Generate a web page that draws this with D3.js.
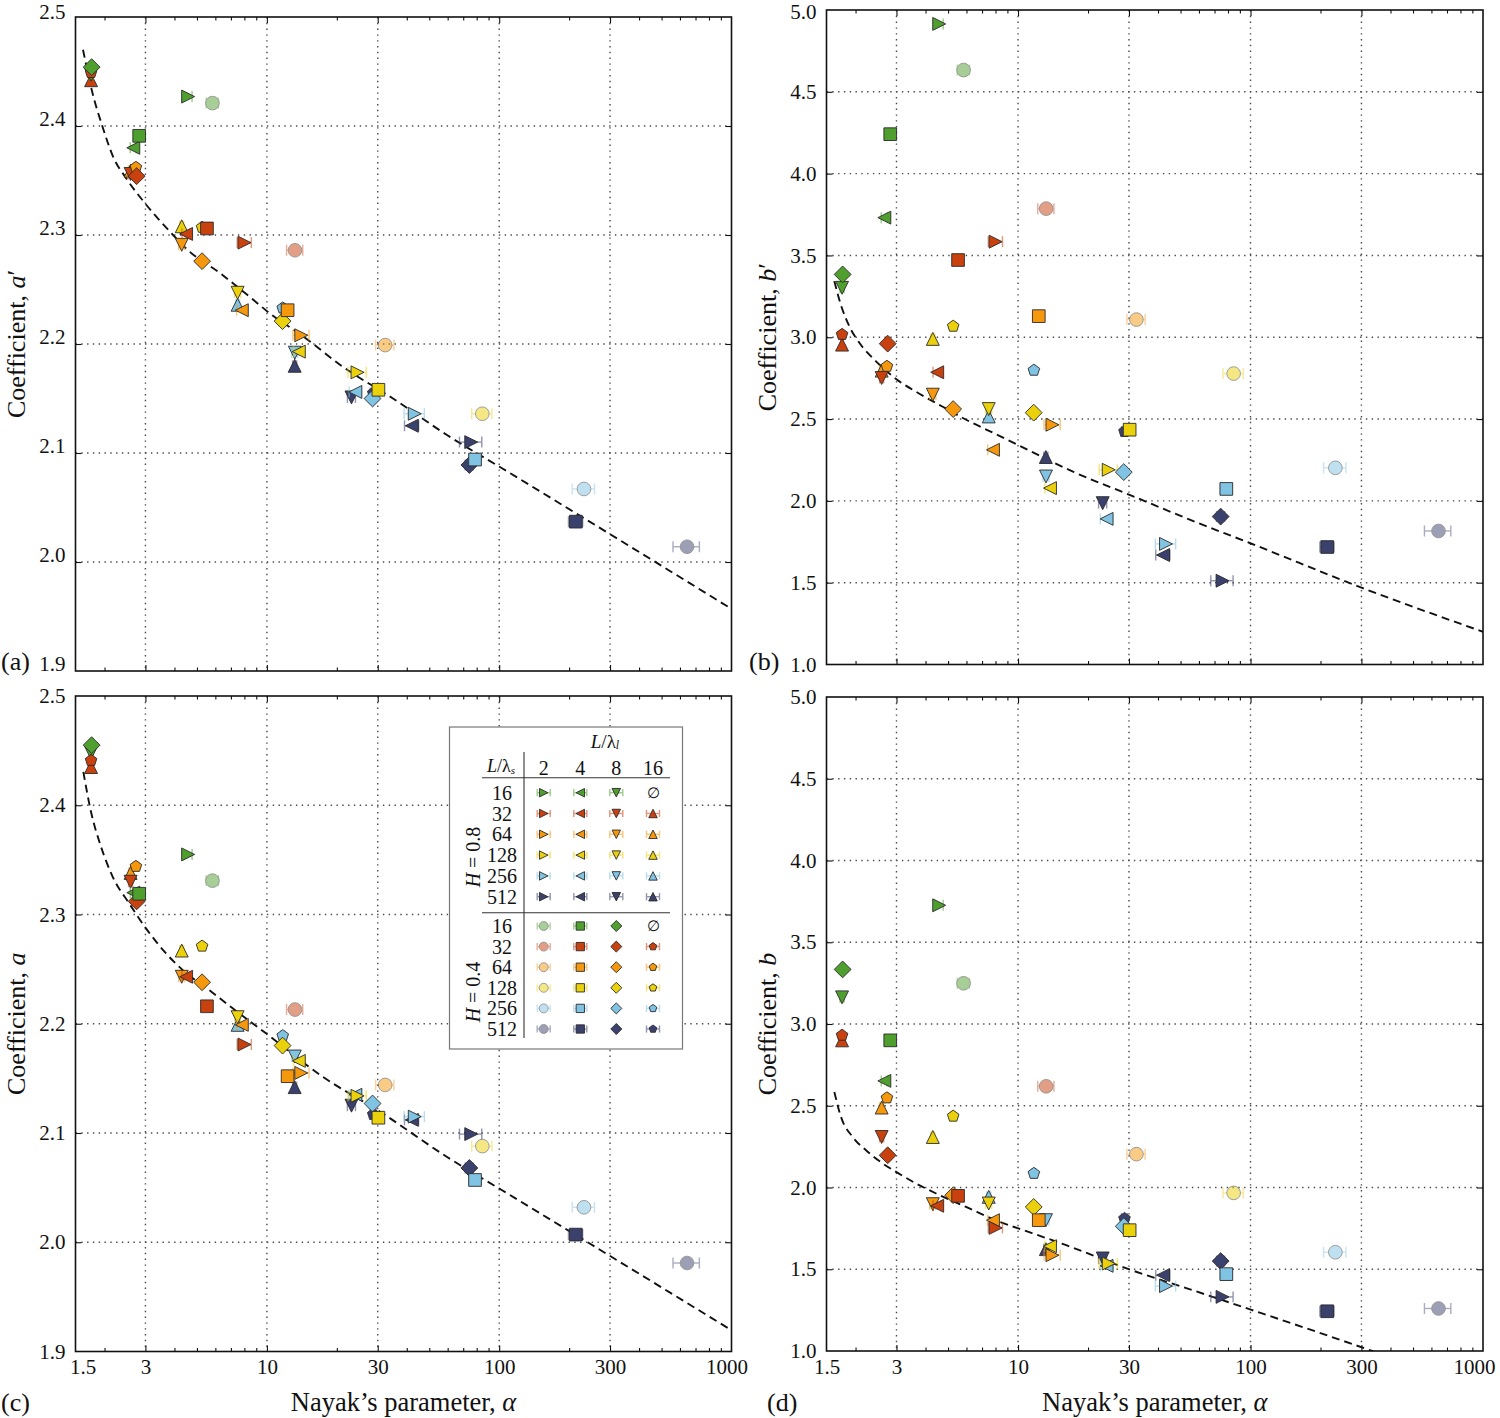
<!DOCTYPE html>
<html><head><meta charset="utf-8">
<script src="https://cdn.jsdelivr.net/npm/d3@7"></script>
<style>body{margin:0;background:#fff}</style>
</head><body><svg id="chart" width="1500" height="1418"></svg>
<script>
// ---------------- DATA ----------------
const lambdaS = [16, 32, 64, 128, 256, 512];          // rows  (L/lambda_s)
const lambdaL = [2, 4, 8, 16];                        // cols  (L/lambda_l)
const xTickValues = [1.5, 3, 10, 30, 100, 300, 1000];
const xMajorTicks = [3, 10, 30, 100, 300];
const xMinorTicks = [2, 4, 5, 6, 7, 8, 9, 20, 40, 50, 60, 70, 80, 90, 200, 400, 500, 600, 700, 800, 900];
const yTicksA = [1.9, 2.0, 2.1, 2.2, 2.3, 2.4, 2.5];
const yTicksB = [1.0, 1.5, 2.0, 2.5, 3.0, 3.5, 4.0, 4.5, 5.0];

// Nayak's parameter alpha per (L/lambda_s row, L/lambda_l col)
const alphaH08 = [
  [4.58, 2.66, 1.75, null],
  [8.01, 4.49, 2.59, 1.75],
  [14.06, 7.80, 4.30, 2.59],
  [24.55, 13.72, 7.48, 4.30],
  [43.3, 24.04, 13.19, 7.48],
  [75.8, 42.06, 23.13, 13.17]
];
const alphaH04 = [
  [5.83, 2.82, 1.76, null],
  [13.21, 5.52, 2.75, 1.75],
  [32.3, 12.28, 5.26, 2.73],
  [84.6, 30.2, 11.68, 5.26],
  [231.7, 78.7, 28.5, 11.7],
  [643.6, 213.7, 74.4, 28.7]
];
// relative half-width of the alpha error bars
const errH08 = [
  [0.04, 0.03, 0.02, null],
  [0.07, 0.04, 0.02, 0.01],
  [0.08, 0.05, 0.03, 0.02],
  [0.09, 0.05, 0.03, 0.02],
  [0.10, 0.06, 0.03, 0.02],
  [0.11, 0.07, 0.04, 0.02]
];
const errH04 = [
  [0.06, 0.03, 0.01, null],
  [0.08, 0.04, 0.02, 0.01],
  [0.09, 0.05, 0.02, 0.02],
  [0.10, 0.05, 0.03, 0.02],
  [0.11, 0.06, 0.03, 0.02],
  [0.13, 0.07, 0.04, 0.03]
];
// coefficient a'
const aPrimeH08 = [
  [2.427, 2.380, 2.447, null],
  [2.293, 2.301, 2.356, 2.442],
  [2.208, 2.231, 2.291, 2.359],
  [2.174, 2.193, 2.247, 2.308],
  [2.136, 2.156, 2.192, 2.236],
  [2.110, 2.125, 2.151, 2.180]
];
const aPrimeH04 = [
  [2.421, 2.391, 2.454, null],
  [2.286, 2.306, 2.354, 2.449],
  [2.199, 2.231, 2.276, 2.362],
  [2.136, 2.158, 2.221, 2.307],
  [2.067, 2.094, 2.150, 2.233],
  [2.014, 2.037, 2.089, 2.155]
];
// coefficient b'
const bPrimeH08 = [
  [4.915, 3.731, 3.302, null],
  [3.584, 2.786, 2.751, 2.955],
  [2.465, 2.312, 2.649, 2.796],
  [2.190, 2.078, 2.561, 2.990],
  [1.737, 1.890, 2.149, 2.516],
  [1.512, 1.669, 1.986, 2.268]
];
const bPrimeH04 = [
  [4.633, 4.241, 3.384, null],
  [3.786, 3.472, 2.961, 3.017],
  [3.108, 3.129, 2.561, 2.822],
  [2.778, 2.435, 2.539, 3.067],
  [2.202, 2.073, 2.176, 2.798],
  [1.816, 1.718, 1.904, 2.424]
];
// coefficient a
const aH08 = [
  [2.355, 2.320, 2.448, null],
  [2.181, 2.243, 2.330, 2.435],
  [2.155, 2.199, 2.243, 2.338],
  [2.134, 2.166, 2.206, 2.267],
  [2.115, 2.135, 2.170, 2.199],
  [2.099, 2.112, 2.125, 2.142]
];
const aH04 = [
  [2.331, 2.319, 2.455, null],
  [2.213, 2.216, 2.312, 2.441],
  [2.144, 2.152, 2.238, 2.344],
  [2.088, 2.114, 2.180, 2.271],
  [2.032, 2.057, 2.127, 2.189],
  [1.981, 2.007, 2.068, 2.117]
];
// coefficient b
const bH08 = [
  [3.726, 2.652, 3.163, null],
  [1.753, 1.888, 2.309, 2.900],
  [1.586, 1.800, 1.898, 2.489],
  [1.535, 1.641, 1.902, 2.309],
  [1.397, 1.521, 1.800, 1.943],
  [1.331, 1.464, 1.566, 1.623]
];
const bH04 = [
  [3.249, 2.900, 3.334, null],
  [2.619, 1.949, 2.197, 2.931],
  [2.204, 1.800, 1.953, 2.548],
  [1.967, 1.739, 1.881, 2.436],
  [1.604, 1.470, 1.763, 2.086],
  [1.260, 1.243, 1.550, 1.810]
];
// fitted curves [alpha, value]
const fitAPrime = [[1.616,2.470],[1.762,2.433],[1.970,2.398],[2.176,2.372],[2.499,2.351],[3.017,2.328],[3.827,2.303],[4.575,2.286],[6.28,2.265],[8.46,2.243],[10.31,2.228],[14.12,2.208],[21.27,2.179],[34.9,2.150],[59.6,2.1165],[102.8,2.086],[1000,1.957]];
const fitBPrime = [[1.621,3.343],[1.732,3.195],[1.880,3.067],[2.077,2.966],[2.450,2.853],[2.988,2.745],[3.764,2.655],[4.746,2.575],[6.39,2.475],[7.58,2.425],[10.04,2.340],[17.32,2.177],[30.17,2.037],[55.1,1.884],[99.8,1.741],[300,1.47],[1000,1.20]];
const fitA = [[1.621,2.4306],[1.749,2.394],[1.932,2.362],[2.169,2.3345],[2.557,2.310],[3.017,2.2873],[3.68,2.2644],[4.342,2.2491],[5.65,2.2308],[7.125,2.2141],[9.91,2.1912],[17.39,2.1515],[30.68,2.1195],[59.4,2.0783],[102.5,2.0478],[1000,1.9195]];
const fitB = [[1.621,2.584],[1.732,2.4315],[1.945,2.309],[2.219,2.228],[2.618,2.1467],[2.988,2.0954],[3.643,2.0244],[4.442,1.9633],[5.978,1.8814],[8.32,1.7897],[10.04,1.7494],[16.11,1.6473],[31.4,1.490],[42.3,1.429],[53.3,1.383],[90.4,1.2744],[334,1.0],[420,0.95]];

const seriesColors = ['#4f9f2f', '#c8410e', '#f5980e', '#ebd00c', '#80c3e2', '#3b416d'];
const shapesH08 = ['right', 'left', 'down', 'up'];
const shapesH04 = ['circle', 'square', 'diamond', 'pentagon'];

// ---------------- DRAWING ----------------
const FONT = '"Liberation Serif","Times New Roman",Times,serif';
const svg = d3.select('#chart');
svg.append('rect').attr('width', 1500).attr('height', 1418).attr('fill', '#fff');

function markerPath(shape, k) {
  const h = 5.3 * k;
  switch (shape) {
    case 'right': return `M${-h},${-h}L${h},0L${-h},${h}Z`;
    case 'left': return `M${h},${-h}L${-h},0L${h},${h}Z`;
    case 'down': return `M${-h},${-h}L${h},${-h}L0,${h}Z`;
    case 'up': return `M0,${-h}L${h},${h}L${-h},${h}Z`;
    case 'square': { const q = 5.2 * k; return `M${-q},${-q}H${q}V${q}H${-q}Z`; }
    case 'diamond': { const d = 6.9 * k; return `M0,${-d}L${d},0L0,${d}L${-d},0Z`; }
    case 'circle': { const r = 5.6 * k; return `M${r},0A${r},${r} 0 1,1 ${-r},0A${r},${r} 0 1,1 ${r},0Z`; }
    case 'pentagon': {
      const r = 5.0 * k; let p = '';
      for (let i = 0; i < 5; i++) { const a = -Math.PI / 2 + i * 2 * Math.PI / 5; p += (i ? 'L' : 'M') + (r * Math.cos(a)).toFixed(2) + ',' + (r * Math.sin(a)).toFixed(2); }
      return p + 'Z';
    }
  }
}

function drawMarker(g, shape, color, cx, cy, xl, xr, k) {
  const m = g.append('g');
  if (shape === 'circle') m.attr('opacity', 0.5);
  if (xr - xl > 1) {
    const eb = m.append('g').attr('stroke', color).attr('stroke-width', 1.4).attr('opacity', shape === 'circle' ? 0.85 : 0.55);
    eb.append('line').attr('x1', xl).attr('x2', xr).attr('y1', cy).attr('y2', cy);
    eb.append('line').attr('x1', xl).attr('x2', xl).attr('y1', cy - 4.5 * k).attr('y2', cy + 4.5 * k);
    eb.append('line').attr('x1', xr).attr('x2', xr).attr('y1', cy - 4.5 * k).attr('y2', cy + 4.5 * k);
  }
  m.append('path').attr('d', markerPath(shape, k)).attr('transform', `translate(${cx},${cy})`)
    .attr('fill', color).attr('stroke', '#2a2a2a').attr('stroke-width', 0.9);
}

const panels = [
  { id: 'a', h08: aPrimeH08, h04: aPrimeH04, fit: fitAPrime, x0: 75.5, x1: 731.5, yTop: 17, yBot: 671, yDom: [1.9, 2.5], yTicks: yTicksA, sym: 'a', prime: true, letter: '(a)', lx: 0, ly: 670, xLabels: false, labelShift: -7 },
  { id: 'b', h08: bPrimeH08, h04: bPrimeH04, fit: fitBPrime, x0: 826.5, x1: 1483, yTop: 10, yBot: 664.5, yDom: [1, 5], yTicks: yTicksB, sym: 'b', prime: true, letter: '(b)', lx: 748, ly: 670, xLabels: false, labelShift: 0 },
  { id: 'c', h08: aH08, h04: aH04, fit: fitA, x0: 75.5, x1: 731.5, yTop: 696, yBot: 1351.5, yDom: [1.9, 2.5], yTicks: yTicksA, sym: 'a', prime: false, letter: '(c)', lx: 0, ly: 1411, xLabels: true, labelShift: 0, firstDx: 7, lastDx: -5 },
  { id: 'd', h08: bH08, h04: bH04, fit: fitB, x0: 826.5, x1: 1483, yTop: 697, yBot: 1351, yDom: [1, 5], yTicks: yTicksB, sym: 'b', prime: false, letter: '(d)', lx: 766, ly: 1411, xLabels: true, labelShift: 0, firstDx: 0, lastDx: -9 }
];

function styleAxis(sel) {
  sel.select('.domain').remove();
  sel.selectAll('line').attr('stroke', '#111').attr('stroke-width', 1.1);
  sel.selectAll('text').attr('font-family', FONT).attr('font-size', 21).attr('fill', '#111');
}

const MK = 1.22;

panels.forEach(p => {
  const x = d3.scaleLog().domain([1.5, 1000]).range([p.x0, p.x1]);
  const y = d3.scaleLinear().domain(p.yDom).range([p.yBot, p.yTop]);
  const g = svg.append('g');

  const clipId = 'clip-' + p.id;
  svg.append('clipPath').attr('id', clipId).append('rect')
    .attr('x', p.x0).attr('y', p.yTop).attr('width', p.x1 - p.x0).attr('height', p.yBot - p.yTop);

  // grid
  const grid = g.append('g').attr('stroke', '#4a4a4a').attr('stroke-width', 1.4).attr('stroke-dasharray', '1.4,4.4');
  xMajorTicks.forEach(v => grid.append('line').attr('x1', x(v)).attr('x2', x(v)).attr('y1', p.yTop).attr('y2', p.yBot));
  p.yTicks.slice(1, -1).forEach(v => grid.append('line').attr('x1', p.x0).attr('x2', p.x1).attr('y1', y(v)).attr('y2', y(v)));

  // legend (panel c)
  if (p.id === 'c') drawLegend(g);

  const plot = g.append('g').attr('clip-path', `url(#${clipId})`);
  // fitted dashed curve
  plot.append('path').datum(p.fit)
    .attr('d', d3.line().x(d => x(d[0])).y(d => y(d[1])).curve(d3.curveMonotoneX))
    .attr('fill', 'none').attr('stroke', '#111').attr('stroke-width', 1.9).attr('stroke-dasharray', '8,5');

  // markers: H = 0.8 then H = 0.4
  [[alphaH08, errH08, p.h08, shapesH08], [alphaH04, errH04, p.h04, shapesH04]].forEach(([al, er, vals, shapes]) => {
    for (let i = lambdaS.length - 1; i >= 0; i--) {
      for (let j = 0; j < lambdaL.length; j++) {
        const a = al[i][j], v = vals[i][j];
        if (a == null || v == null) continue;
        const e = er[i][j];
        drawMarker(plot, shapes[j], seriesColors[i], x(a), y(v), x(a * (1 - e)), x(a * (1 + e)), MK);
      }
    }
  });

  // frame
  g.append('rect').attr('x', p.x0).attr('y', p.yTop).attr('width', p.x1 - p.x0).attr('height', p.yBot - p.yTop)
    .attr('fill', 'none').attr('stroke', '#111').attr('stroke-width', 1.6);

  // ticks
  g.append('g').attr('transform', `translate(0,${p.yBot})`).call(d3.axisBottom(x).tickValues(xMajorTicks).tickSize(-6).tickFormat('')).call(styleAxis);
  g.append('g').attr('transform', `translate(0,${p.yBot})`).call(d3.axisBottom(x).tickValues(xMinorTicks).tickSize(-3.5).tickFormat('')).call(styleAxis);
  g.append('g').attr('transform', `translate(0,${p.yTop})`).call(d3.axisTop(x).tickValues(xMajorTicks).tickSize(-6).tickFormat('')).call(styleAxis);
  g.append('g').attr('transform', `translate(0,${p.yTop})`).call(d3.axisTop(x).tickValues(xMinorTicks).tickSize(-3.5).tickFormat('')).call(styleAxis);
  g.append('g').attr('transform', `translate(${p.x1},0)`).call(d3.axisRight(y).tickValues(p.yTicks.slice(1, -1)).tickSize(-6).tickFormat('')).call(styleAxis);

  // y axis with labels
  const yAx = g.append('g').attr('transform', `translate(${p.x0},0)`)
    .call(d3.axisLeft(y).tickValues(p.yTicks).tickSize(-6).tickPadding(10).tickFormat(d3.format('.1f'))).call(styleAxis);
  yAx.selectAll('.tick').filter(d => d === p.yTicks[0] || d === p.yTicks[p.yTicks.length - 1]).select('line').remove();
  yAx.selectAll('text').attr('transform', d => {
    const cy = y(d) + p.labelShift;
    const s = cy < 12 ? 12 - y(d) : p.labelShift;
    return `translate(0,${s})`;
  });

  // x labels
  if (p.xLabels) {
    const xAx = g.append('g').attr('transform', `translate(0,${p.yBot})`)
      .call(d3.axisBottom(x).tickValues(xTickValues).tickSize(0).tickPadding(8).tickFormat(d => String(d))).call(styleAxis);
    xAx.selectAll('text').attr('dx', d => d === 1.5 ? p.firstDx : (d === 1000 ? p.lastDx : 0));
    const xt = g.append('text').attr('x', (p.x0 + p.x1) / 2).attr('y', 1411).attr('text-anchor', 'middle')
      .attr('font-family', FONT).attr('font-size', 26.5).attr('fill', '#111');
    xt.append('tspan').text('Nayak\u2019s parameter, ');
    xt.append('tspan').attr('font-style', 'italic').text('\u03b1');
  }

  // y title
  const yt = g.append('text').attr('transform', `translate(${p.x0 - 60},${(p.yTop + p.yBot) / 2}) rotate(-90)`)
    .attr('text-anchor', 'middle').attr('dominant-baseline', 'central')
    .attr('font-family', FONT).attr('font-size', 26).attr('fill', '#111');
  yt.append('tspan').text('Coefficient, ');
  yt.append('tspan').attr('font-style', 'italic').text(p.sym);
  if (p.prime) yt.append('tspan').text('\u2032');

  // panel letter
  g.append('text').attr('x', p.lx + 1).attr('y', p.ly).attr('font-family', FONT).attr('font-size', 26).attr('fill', '#111').text(p.letter);
});

function drawLegend(g) {
  const bx = 449.5, by = 727, bw = 233, bh = 322;
  const L = g.append('g');
  L.append('rect').attr('x', bx).attr('y', by).attr('width', bw).attr('height', bh)
    .attr('fill', '#fff').attr('stroke', '#777').attr('stroke-width', 1.2);
  const colX = [543.7, 580.3, 616.3, 653];
  const rowY08 = [792.7, 813.5, 834.3, 855.1, 875.9, 896.7];
  const rowY04 = [926, 946.6, 967.2, 987.8, 1008.4, 1029];
  const txt = (x, y, s, size, anchor) => L.append('text').attr('x', x).attr('y', y).attr('text-anchor', anchor || 'middle')
    .attr('dominant-baseline', 'central').attr('font-family', FONT).attr('font-size', size || 18).attr('fill', '#111').text(s);

  const h1 = L.append('text').attr('x', 605).attr('y', 741).attr('text-anchor', 'middle').attr('dominant-baseline', 'central')
    .attr('font-family', FONT).attr('font-size', 19).attr('fill', '#111');
  h1.append('tspan').attr('font-style', 'italic').text('L');
  h1.append('tspan').text('/\u03bb');
  h1.append('tspan').attr('font-style', 'italic').attr('font-size', 12).attr('dy', 4).text('l');
  const h2 = L.append('text').attr('x', 501).attr('y', 766).attr('text-anchor', 'middle').attr('dominant-baseline', 'central')
    .attr('font-family', FONT).attr('font-size', 18).attr('fill', '#111');
  h2.append('tspan').attr('font-style', 'italic').text('L');
  h2.append('tspan').text('/\u03bb');
  h2.append('tspan').attr('font-style', 'italic').attr('font-size', 11).attr('dy', 4).text('s');
  lambdaL.forEach((v, j) => txt(colX[j], 767.5, String(v), 20));

  L.append('line').attr('x1', 482).attr('x2', 670).attr('y1', 777.7).attr('y2', 777.7).attr('stroke', '#333').attr('stroke-width', 1.1);
  L.append('line').attr('x1', 482).attr('x2', 670).attr('y1', 912.7).attr('y2', 912.7).attr('stroke', '#333').attr('stroke-width', 1.1);
  L.append('line').attr('x1', 524).attr('x2', 524).attr('y1', 752).attr('y2', 1038).attr('stroke', '#333').attr('stroke-width', 1.1);

  [[rowY08, shapesH08, 'H = 0.8', 857], [rowY04, shapesH04, 'H = 0.4', 992]].forEach(([rows, shapes, lab, cy]) => {
    const t = L.append('text').attr('transform', `translate(473,${cy}) rotate(-90)`).attr('text-anchor', 'middle')
      .attr('dominant-baseline', 'central').attr('font-family', FONT).attr('font-size', 20).attr('fill', '#111');
    t.append('tspan').attr('font-style', 'italic').text('H');
    t.append('tspan').text(lab.slice(1));
    lambdaS.forEach((s, i) => {
      txt(502, rows[i], String(s), 20);
      shapes.forEach((sh, j) => {
        if (i === 0 && j === 3) { txt(colX[j], rows[i], '\u2205', 15); return; }
        const cx = colX[j], w = sh === 'diamond' ? 0 : 6.5;
        drawMarker(L, sh, seriesColors[i], cx, rows[i], cx - w, cx + w, 0.8);
      });
    });
  });
}
</script>
</body></html>
